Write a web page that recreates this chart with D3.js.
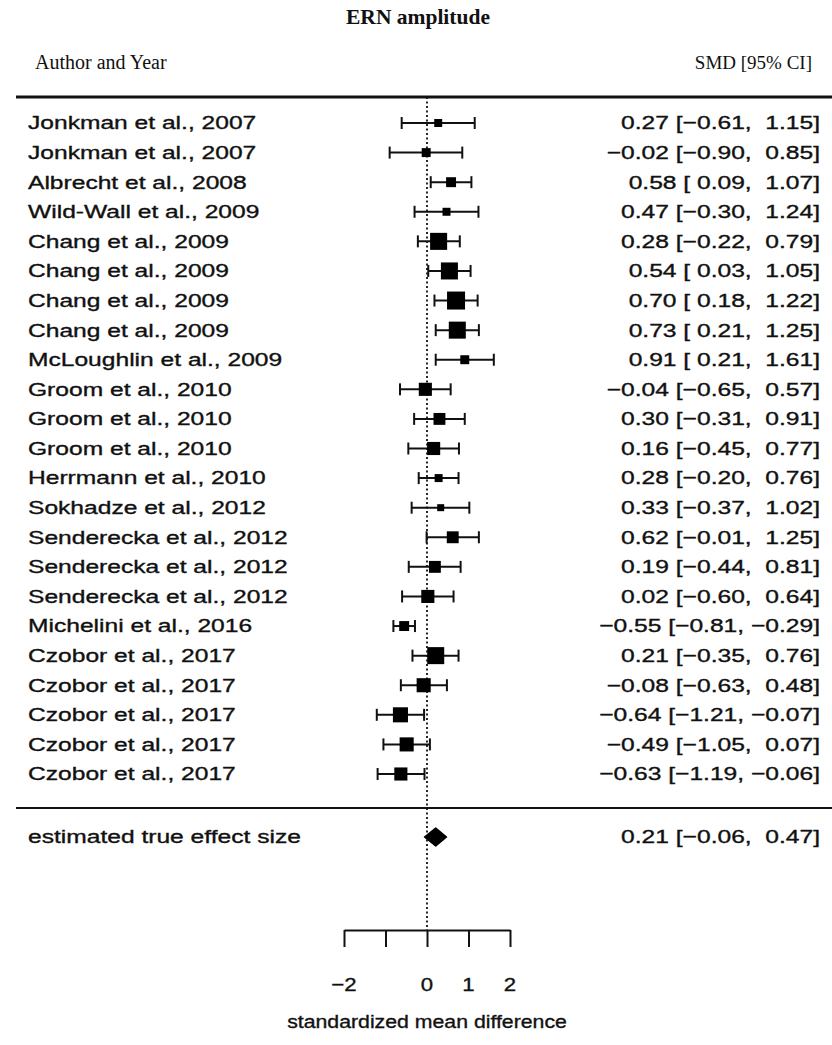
<!DOCTYPE html>
<html>
<head>
<meta charset="utf-8">
<script src="https://cdn.jsdelivr.net/npm/d3@7"></script>
<style>
  body { margin: 0; background: #fff; }
  svg { display: block; }
  .lab { font-family: "Liberation Sans", Arial, sans-serif; font-size: 18.5px; fill: #111; stroke: #111; stroke-width: 0.35px; }
  .serif { font-family: "Liberation Serif", "Times New Roman", serif; fill: #111; }
</style>
</head>
<body>
<svg id="chart" width="832" height="1045"></svg>
<script>
// -- Data --
const studies = [
  "Jonkman et al., 2007", "Jonkman et al., 2007", "Albrecht et al., 2008",
  "Wild-Wall et al., 2009", "Chang et al., 2009", "Chang et al., 2009",
  "Chang et al., 2009", "Chang et al., 2009", "McLoughlin et al., 2009",
  "Groom et al., 2010", "Groom et al., 2010", "Groom et al., 2010",
  "Herrmann et al., 2010", "Sokhadze et al., 2012", "Senderecka et al., 2012",
  "Senderecka et al., 2012", "Senderecka et al., 2012", "Michelini et al., 2016",
  "Czobor et al., 2017", "Czobor et al., 2017", "Czobor et al., 2017",
  "Czobor et al., 2017", "Czobor et al., 2017"
];
const smd   = [0.27, -0.02, 0.58, 0.47, 0.28, 0.54, 0.70, 0.73, 0.91, -0.04, 0.30, 0.16, 0.28, 0.33, 0.62, 0.19, 0.02, -0.55, 0.21, -0.08, -0.64, -0.49, -0.63];
const lower = [-0.61, -0.90, 0.09, -0.30, -0.22, 0.03, 0.18, 0.21, 0.21, -0.65, -0.31, -0.45, -0.20, -0.37, -0.01, -0.44, -0.60, -0.81, -0.35, -0.63, -1.21, -1.05, -1.19];
const upper = [1.15, 0.85, 1.07, 1.24, 0.79, 1.05, 1.22, 1.25, 1.61, 0.57, 0.91, 0.77, 0.76, 1.02, 1.25, 0.81, 0.64, -0.29, 0.76, 0.48, -0.07, 0.07, -0.06];
// estimated relative weights (%)
const weights = [2.4, 2.8, 3.2, 2.4, 6.1, 6.1, 6.5, 6.1, 2.8, 4.5, 4.0, 4.5, 2.4, 2.0, 4.0, 4.0, 4.5, 3.2, 6.1, 4.9, 5.3, 4.9, 4.5];
const pooled = { label: "estimated true effect size", est: 0.21, lo: -0.06, hi: 0.47 };
const tickValues = [-2, -1, 0, 1, 2];
const tickLabels = ["\u22122", "", "0", "1", "2"];

const svg = d3.select("#chart");
const width = 832;

// -- Scales --
const x = d3.scaleLinear().domain([-2, 2]).range([344, 510]);
const y = d3.scaleLinear().domain([0, studies.length - 1]).range([123, 774]);
const size = d3.scaleLinear().domain([2, 6.5]).range([7, 18]);

const stretch = 1.33;   // the R plot text is widened horizontally
const lineLeft = 16;
const headerLineY = 97;
const sepLineY = 808;
const pooledY = 837;
const axisY = 930;

// R style number formatting with unicode minus
const fmt = v => (v < 0 ? "\u2212" : "") + Math.abs(v).toFixed(2);
const pad = v => (v < 0 ? "" : " ") + fmt(v);
const ciText = (e, l, u) => `${fmt(e)} [${pad(l)}, ${pad(u)}]`;

// stretched text helper
function addText(parent, px, py, str, anchor, sx) {
  parent.append("g")
    .attr("transform", `translate(${px}, ${py}) scale(${sx || stretch}, 1)`)
    .append("text").attr("class", "lab")
    .attr("text-anchor", anchor).attr("dominant-baseline", "central")
    .style("white-space", "pre")
    .text(str);
}

// -- Titles --
svg.append("text").attr("class", "serif")
  .attr("x", 418).attr("y", 17)
  .attr("text-anchor", "middle").attr("dominant-baseline", "central")
  .style("font-size", "21.5px").style("font-weight", "bold")
  .text("ERN amplitude");

svg.append("text").attr("class", "serif")
  .attr("x", 35).attr("y", 62).attr("dominant-baseline", "central")
  .style("font-size", "20px")
  .text("Author and Year");

svg.append("text").attr("class", "serif")
  .attr("x", 812).attr("y", 62).attr("text-anchor", "end").attr("dominant-baseline", "central")
  .style("font-size", "19px")
  .text("SMD [95% CI]");

// -- Horizontal rules --
svg.append("line")
  .attr("x1", lineLeft).attr("x2", width)
  .attr("y1", headerLineY).attr("y2", headerLineY)
  .attr("stroke", "#111").attr("stroke-width", 3);

svg.append("line")
  .attr("x1", lineLeft).attr("x2", width)
  .attr("y1", sepLineY).attr("y2", sepLineY)
  .attr("stroke", "#111").attr("stroke-width", 2);

// -- Reference line at zero --
svg.append("line")
  .attr("x1", x(0)).attr("x2", x(0))
  .attr("y1", headerLineY).attr("y2", axisY)
  .attr("stroke", "#111").attr("stroke-width", 1.8)
  .attr("stroke-dasharray", "2,2.5");

// -- Study rows --
const rows = svg.selectAll(".row")
  .data(studies.map((s, i) => ({ name: s, est: smd[i], lo: lower[i], hi: upper[i], w: weights[i], i })))
  .enter().append("g").attr("class", "row")
  .attr("transform", d => `translate(0, ${y(d.i)})`);

rows.each(function(d) {
  const g = d3.select(this);
  addText(g, 28, 0, d.name, "start");
  addText(g, 820, 0, ciText(d.est, d.lo, d.hi), "end");
});

// whiskers
rows.append("line")
  .attr("x1", d => x(d.lo)).attr("x2", d => x(d.hi))
  .attr("stroke", "#111").attr("stroke-width", 2);

rows.selectAll(".cap")
  .data(d => [d.lo, d.hi])
  .enter().append("line")
  .attr("x1", v => x(v)).attr("x2", v => x(v))
  .attr("y1", -6).attr("y2", 6)
  .attr("stroke", "#111").attr("stroke-width", 2);

rows.append("rect")
  .attr("x", d => x(d.est) - size(d.w) / 2)
  .attr("y", d => -size(d.w) / 2)
  .attr("width", d => size(d.w))
  .attr("height", d => size(d.w))
  .attr("fill", "#000");

// -- Pooled estimate --
addText(svg, 28, pooledY, pooled.label, "start");
addText(svg, 820, pooledY, ciText(pooled.est, pooled.lo, pooled.hi), "end");

svg.append("path")
  .attr("d", `M${x(pooled.lo)},${pooledY} L${x(pooled.est)},${pooledY - 9} L${x(pooled.hi)},${pooledY} L${x(pooled.est)},${pooledY + 9} Z`)
  .attr("fill", "#000").attr("stroke", "#000").attr("stroke-width", 1.5)
  .attr("stroke-linejoin", "round");

// -- Axis --
const axis = d3.axisBottom(x)
  .tickValues(tickValues)
  .tickFormat(() => "")
  .tickSize(17)
  .tickSizeOuter(0);

const axisG = svg.append("g")
  .attr("transform", `translate(0, ${axisY})`)
  .call(axis);

axisG.select(".domain").attr("stroke", "#111").attr("stroke-width", 2);
axisG.selectAll(".tick line").attr("stroke", "#111").attr("stroke-width", 2);

tickValues.forEach((v, i) => {
  if (tickLabels[i]) addText(svg, x(v), 985, tickLabels[i], "middle", 1.2);
});

addText(svg, x(0), 1022, "standardized mean difference", "middle", 1.15);
</script>
</body>
</html>
